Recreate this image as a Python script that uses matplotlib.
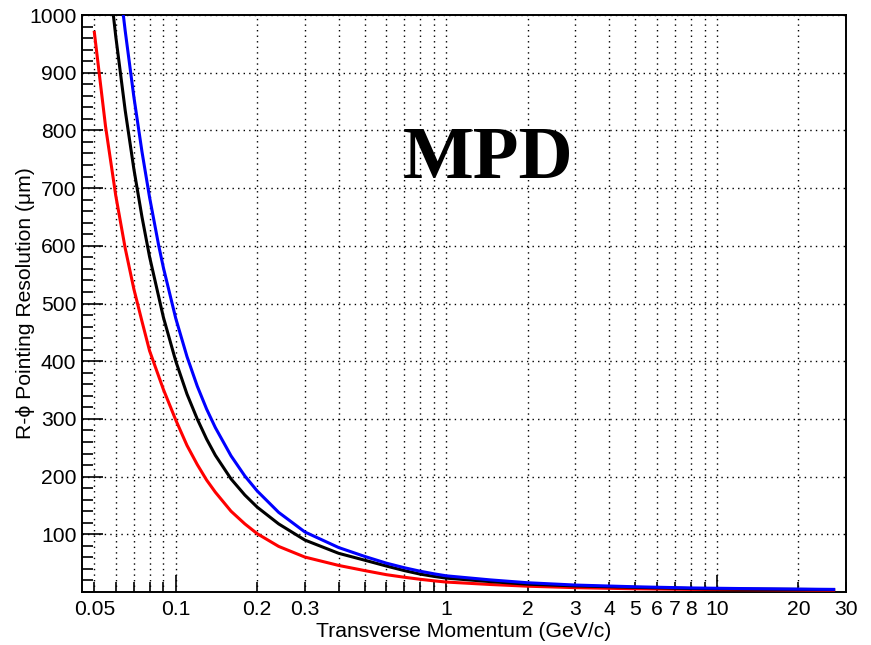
import matplotlib
matplotlib.use("Agg")
import matplotlib.pyplot as plt
import matplotlib.ticker as mticker

plt.rcParams['font.family'] = ['Liberation Sans', 'DejaVu Sans']

#Transverse momentum points (GeV/c) and R-phi pointing resolution (um).
pt_red = [0.05, 0.055, 0.06, 0.065, 0.07, 0.075, 0.08, 0.09, 0.1, 0.11, 0.12, 0.13, 0.14,
          0.16, 0.18, 0.2, 0.24, 0.3, 0.4, 0.5, 0.6, 0.7, 0.8, 0.9, 1.0, 1.45, 2, 3, 5, 8,
          12, 20, 27]
res_red = [970, 807, 687, 596, 525, 469, 418, 351, 298, 254, 221, 194, 173,
           140, 118, 101, 79, 60.5, 46, 37, 30, 25.5, 22, 19.3, 17.2, 13, 10, 7.5, 5.5, 4.5,
           4, 3.5, 3]

pt_black = [0.058, 0.06, 0.065, 0.07, 0.075, 0.08, 0.09, 0.1, 0.11, 0.12, 0.13, 0.14,
            0.16, 0.18, 0.2, 0.24, 0.3, 0.4, 0.5, 0.6, 0.7, 0.8, 0.9, 1.0, 1.45, 2, 3, 5,
            8, 12, 20, 27]
res_black = [1024, 963, 835, 733, 650, 581, 476, 400, 343, 300, 265, 237,
             196, 168, 147, 118, 90, 67, 55, 45, 37, 31, 27, 24, 18, 13.5, 10.5, 8,
             6, 5, 4.5, 4]

pt_blue = [0.063, 0.065, 0.07, 0.075, 0.08, 0.0865, 0.09, 0.1, 0.11, 0.12, 0.13, 0.14,
           0.16, 0.18, 0.2, 0.24, 0.3, 0.4, 0.5, 0.6, 0.7, 0.8, 0.9, 1.0, 1.45, 2, 3, 5,
           8, 12, 20, 27]
res_blue = [1027, 973, 858, 763, 684, 600, 562, 474, 408, 357, 317, 285,
            236, 201, 175, 138, 104, 77, 61.5, 50, 42, 36, 31.5, 28, 21, 16, 12, 9,
            7, 6, 5, 4.5]

x_major = [0.1, 1, 10]
x_minor = [0.05, 0.06, 0.07, 0.08, 0.09, 0.2, 0.3, 0.4, 0.5, 0.6, 0.7, 0.8, 0.9,
           2, 3, 4, 5, 6, 7, 8, 9, 20, 30]
x_labels = [0.05, 0.2, 0.3, 2, 3, 4, 5, 6, 7, 8, 20, 30]
y_labels = [100, 200, 300, 400, 500, 600, 700, 800, 900, 1000]

fig = plt.figure(figsize=(8.71, 6.45), dpi=100)
ax = fig.add_axes([0.0941, 0.0822, 0.8772, 0.8945])

ax.plot(pt_red, res_red, color='#ff0000', lw=2.2, zorder=3)
ax.plot(pt_black, res_black, color='black', lw=2.2, zorder=3)
ax.plot(pt_blue, res_blue, color='#0000ff', lw=2.2, zorder=3)

ax.set_xscale('log')
ax.set_xlim(0.045, 30)
ax.set_ylim(0, 1000)

def fmt(v):
    return ('%g' % v)

#ROOT style axes: ticks inside, decade ticks long, labels on some minor ticks too.
ax.xaxis.set_major_locator(mticker.FixedLocator(x_major))
ax.xaxis.set_major_formatter(mticker.FixedFormatter([fmt(v) for v in x_major]))
ax.xaxis.set_minor_locator(mticker.FixedLocator(x_minor))
ax.xaxis.set_minor_formatter(mticker.FixedFormatter([fmt(v) if v in x_labels else '' for v in x_minor]))
ax.yaxis.set_major_locator(mticker.FixedLocator(y_labels))
ax.yaxis.set_minor_locator(mticker.MultipleLocator(20))

ax.tick_params(which='both', direction='in', top=False, right=False, labelsize=15.2, width=1.2)
ax.tick_params(axis='x', which='major', length=12, pad=6)
ax.tick_params(axis='x', which='minor', length=7, pad=6)
ax.tick_params(axis='y', which='major', length=15, pad=4)
ax.tick_params(axis='y', which='minor', length=8)

ax.set_axisbelow(False)
ax.grid(True, axis='x', which='both', color='black', lw=1.0, linestyle=(0, (1, 3)))
ax.grid(True, axis='y', which='major', color='black', lw=1.0, linestyle=(0, (1, 3)))
for s in ax.spines.values():
    s.set_linewidth(1.4)

ax.set_xlabel('Transverse Momentum (GeV/c)', fontsize=15.2, labelpad=2)
ax.set_ylabel('R-\u03d5 Pointing Resolution (\u03bcm)', fontsize=15.2)
ax.yaxis.set_label_coords(-0.061, 0.5)

ax.text(0.531, 0.749, 'MPD', transform=ax.transAxes, ha='center', va='center',
        fontsize=54, fontweight='bold', family='Liberation Serif', zorder=1)

fig.savefig('out.png', dpi=100)
